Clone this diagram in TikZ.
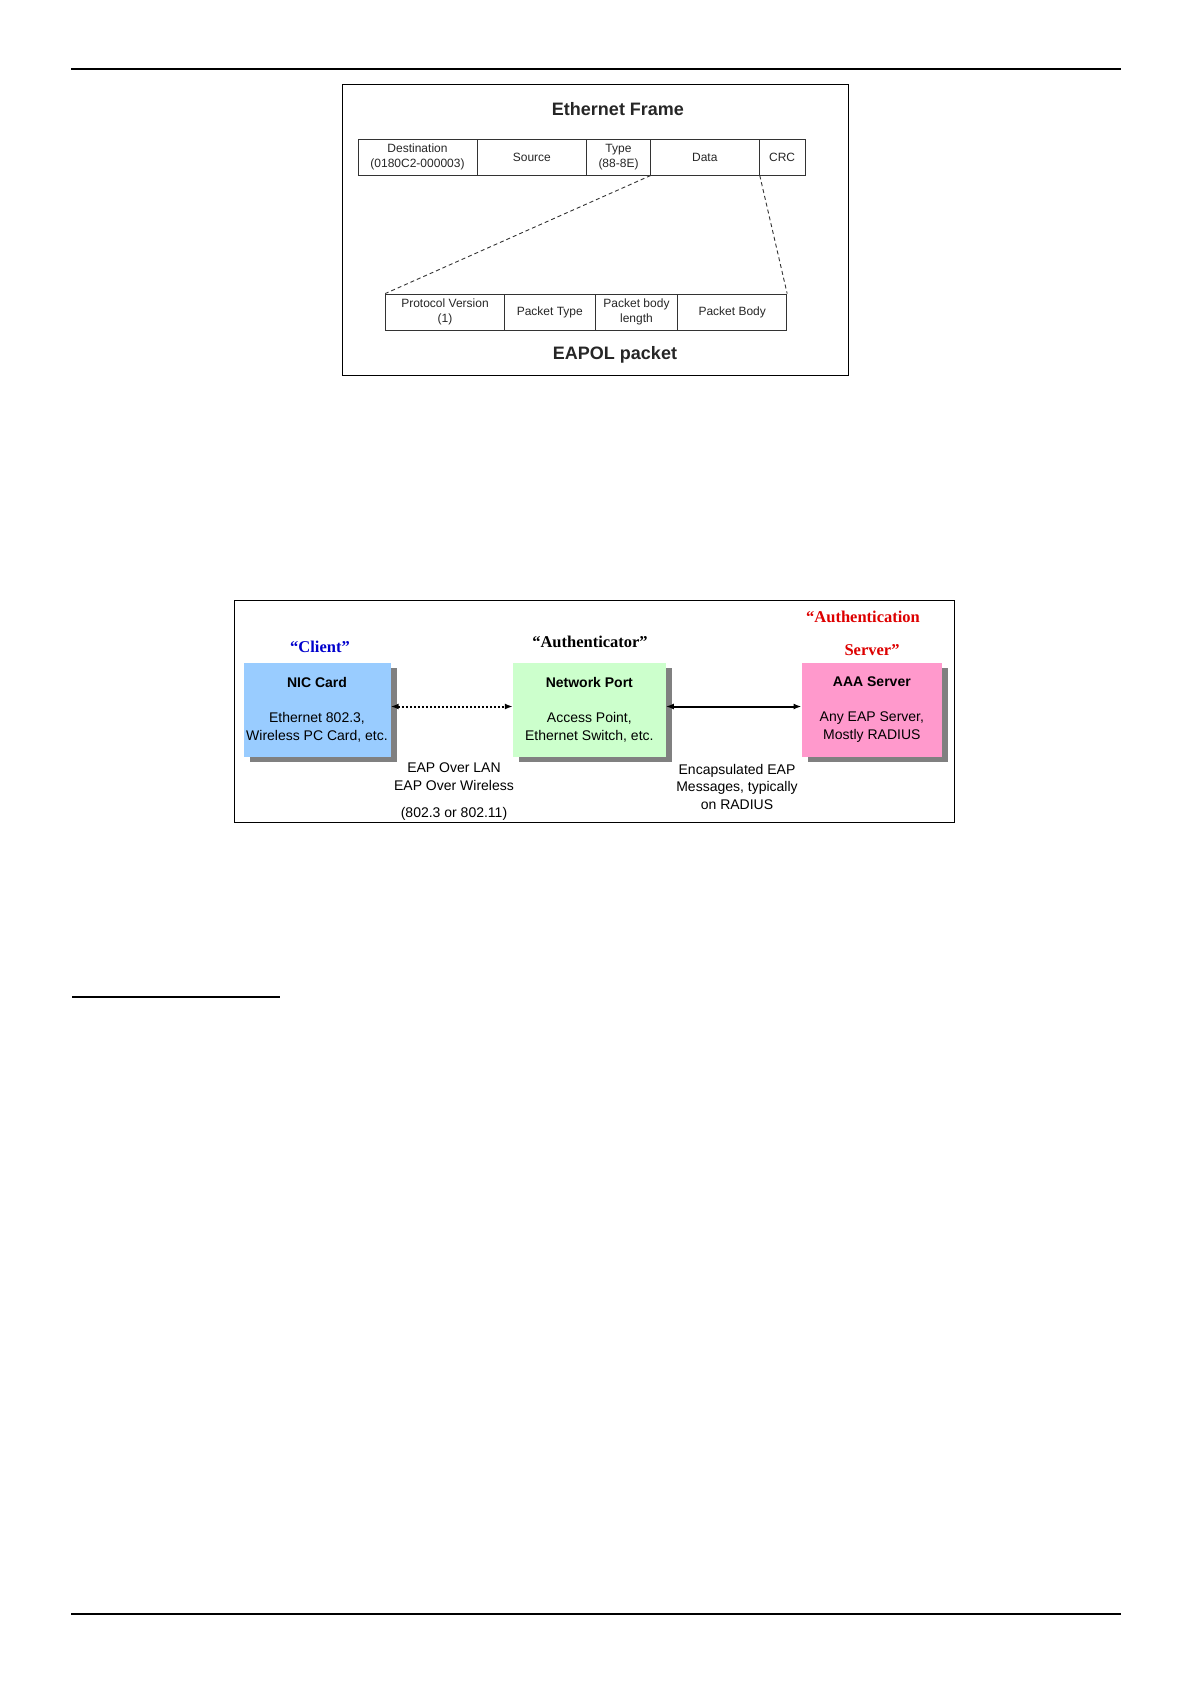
\documentclass[tikz,border=0pt]{standalone}
\usepackage{fontspec}
\setmainfont{Liberation Sans}
\newfontfamily\quotefont{Liberation Serif}
\usetikzlibrary{arrows.meta,shadows}
\definecolor{nicblue}{RGB}{153,204,255}
\definecolor{npgreen}{RGB}{204,255,204}
\definecolor{aaapink}{RGB}{255,153,204}
\definecolor{clientblue}{RGB}{0,0,204}
\definecolor{serverred}{RGB}{221,0,0}
\newcommand\cellfont{\fontsize{12}{14.5}\selectfont}
\newcommand\titlefont{\fontsize{18}{21}\selectfont\bfseries}
\newcommand\boxfont{\fontsize{14}{17.5}\selectfont}
\newcommand\qfont{\fontsize{16.5}{19}\selectfont\quotefont\bfseries}
\tikzset{
  cell/.style={draw=black!80, line width=0.9pt, inner sep=0pt, minimum height=36pt,
    align=center, font=\cellfont, text=black!85},
  frame/.style={draw=black, line width=0.9pt, inner sep=0pt},
  zoomlink/.style={draw=black!80, line width=0.9pt, dash pattern=on 4pt off 3pt},
  rolebox/.style={inner sep=0pt, minimum height=94pt, align=center, font=\boxfont,
    drop shadow={shadow xshift=6pt, shadow yshift=-5.5pt, fill=black!50, opacity=1}},
  rolelabel/.style={font=\qfont, inner sep=0pt},
  linklabel/.style={font=\boxfont, align=center, inner sep=0pt},
  tip/.style={{Latex[length=8pt,width=6pt]}-{Latex[length=8pt,width=6pt]}},
  pagerule/.style={line width=2.2pt},
}
\begin{document}
\begin{tikzpicture}[x=1pt,y=-1pt]
\useasboundingbox (0,0) rectangle (1192,1684);

% page rules
\draw[pagerule] (71,69) -- (1121,69);
\draw[line width=2.7pt] (72,997) -- (280,997);
\draw[pagerule] (71,1614) -- (1121,1614);

% ---------- EAPOL frame figure ----------
\node[frame, minimum width=505.5pt, minimum height=290.5pt] (figA) at (595.25,229.75) {};
\node[font=\titlefont, text=black!85] (ethtitle) at (618,109) {Ethernet Frame};
\node[cell, minimum width=119pt]   (dest)   at (417.5,157)  {Destination\\(0180C2-000003)};
\node[cell, minimum width=109.7pt] (source) at (531.85,157) {Source};
\node[cell, minimum width=63.6pt]  (type)   at (618.5,157)  {Type\\(88-8E)};
\node[cell, minimum width=109pt]   (data)   at (704.8,157)  {Data};
\node[cell, minimum width=45.7pt]  (crc)    at (782.15,157) {CRC};

\node[cell, minimum width=118.6pt] (pv)  at (445,312)   {Protocol Version\\(1)};
\node[cell, minimum width=91pt]    (pt)  at (549.8,312) {Packet Type};
\node[cell, minimum width=82.4pt]  (pbl) at (636.5,312) {Packet body\\length};
\node[cell, minimum width=109pt]   (pb)  at (732.2,312) {Packet Body};
\node[font=\titlefont, text=black!85] (eapoltitle) at (615,355) {EAPOL packet};

\draw[zoomlink] (type.south east) -- (pv.north west);
\draw[zoomlink] (data.south east) -- (pb.north east);

% ---------- 802.1X roles figure ----------
\node[frame, minimum width=720pt, minimum height=222.5pt] (figB) at (594.5,711.25) {};

\node[rolebox, fill=nicblue, minimum width=147pt] (nic) at (317,709.5)
  {{\bfseries NIC Card}\\[18pt]Ethernet 802.3,\\Wireless PC Card, etc.};
\node[rolebox, fill=npgreen, minimum width=152.7pt] (np) at (589.35,709.5)
  {{\bfseries Network Port}\\[18pt]Access Point,\\Ethernet Switch, etc.};
\node[rolebox, fill=aaapink, minimum width=140.3pt] (aaa) at (871.85,709.5)
  {{\bfseries AAA Server}\\[18pt]Any EAP Server,\\Mostly RADIUS};

\node[rolelabel, text=clientblue] (client) at (320,647) {“Client”};
\node[rolelabel, text=black] (authr) at (590,642) {“Authenticator”};
\node[rolelabel, text=serverred] (auths1) at (863,617) {“Authentication};
\node[rolelabel, text=serverred] (auths2) at (872,650) {Server”};

\draw[tip, line width=2pt, dash pattern=on 2pt off 2pt]
  ([yshift=3pt]nic.east) -- ([yshift=3pt]np.west);
\draw[tip, line width=2pt]
  ([yshift=3pt]np.east) -- ([yshift=3pt]aaa.west);

\node[linklabel] (eapol) at (454,776.5) {EAP Over LAN\\EAP Over Wireless};
\node[linklabel] (media) at (454,813.5) {(802.3 or 802.11)};
\node[linklabel] (encap) at (737,786.5) {Encapsulated EAP\\Messages, typically\\on RADIUS};
\end{tikzpicture}
\end{document}
